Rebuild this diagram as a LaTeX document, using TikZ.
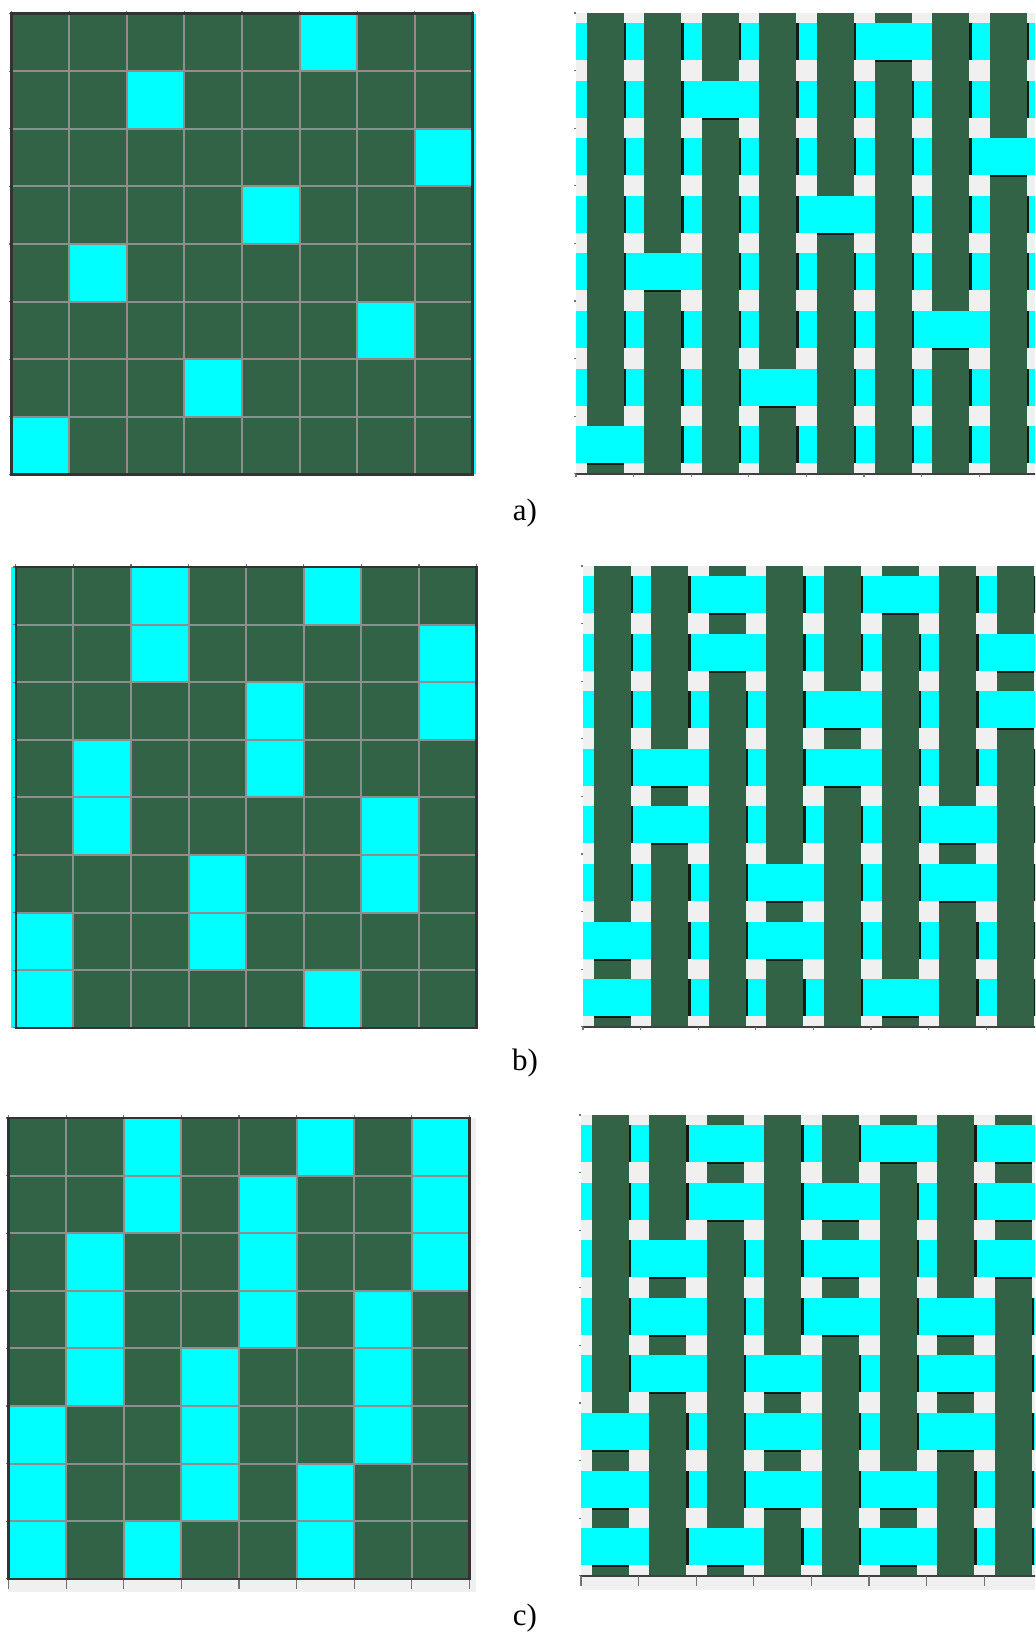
\documentclass[tikz,border=0pt]{standalone}
\usepackage{fontspec}
\setmainfont{Liberation Serif}
\usepackage{tikz}

\definecolor{warpgreen}{RGB}{51,99,70}
\definecolor{weftcyan}{RGB}{0,255,255}
\definecolor{gridgray}{RGB}{142,142,142}
\definecolor{paper}{RGB}{240,240,240}
\definecolor{shade}{RGB}{18,28,22}

\tikzset{
  warpfill/.style={fill=warpgreen},
  weftfill/.style={fill=weftcyan},
  gridline/.style={draw=gridgray, line width=1pt},
  frame/.style={draw=black!80, line width=1.3pt},
  axisline/.style={draw=black!75, line width=0.8pt},
  tickmark/.style={draw=black!55, line width=0.6pt},
  shadow/.style={fill=shade},
  caption/.style={font=\fontsize{15.5}{18}\selectfont, inner sep=0pt},
}

% draft of an 8x8 weave, #1 = list of row/column cells with weft on top
\newcommand{\draftpanel}[1]{%
  \fill[warpfill] (0,0) rectangle (8*\cs,8*\cs);
  \foreach \r/\c in #1
    \fill[weftfill] ({(\c-1)*\cs},{(\r-1)*\cs}) rectangle ++(\cs,\cs);
  \foreach \i in {1,...,7}{
    \draw[gridline] (\i*\cs,0) -- (\i*\cs,8*\cs);
    \draw[gridline] (0,\i*\cs) -- (8*\cs,\i*\cs);
  }
  \foreach \i in {0,...,8}{
    \draw[tickmark] (\i*\cs,0) -- ++(0,-3);
    \draw[tickmark] (0,\i*\cs) -- ++(-3,0);
  }
  \draw[frame] (0,0) rectangle (8*\cs,8*\cs);
}

% simulated fabric of the same weave
\newcommand{\fabricpanel}[1]{%
  \fill[paper] (0,0) rectangle (8*\cs,8*\cs);
  \foreach \r in {1,...,8}
    \fill[weftfill] (0,{(\r-1)*\cs+10}) rectangle (8*\cs,{(\r-1)*\cs+47});
  \foreach \c in {1,...,8}
    \fill[warpfill] ({(\c-1)*\cs+10.5},0) rectangle ++(37,8*\cs);
  \foreach \r in {1,...,8}
    \foreach \c in {1,...,8}
      \fill[shadow] ({(\c-1)*\cs+47.5},{(\r-1)*\cs+10}) rectangle ++(2.5,37);
  \foreach \r/\c in #1{
    \fill[weftfill] ({(\c-1)*\cs+10.5},{(\r-1)*\cs+10}) rectangle ++(40,37);
    \fill[shadow] ({(\c-1)*\cs+10.5},{(\r-1)*\cs+47}) rectangle ++(37,2);
  }
  \draw[axisline] (0,8*\cs) -- (8*\cs,8*\cs);
  \foreach \i in {0,...,8}{
    \draw[tickmark] (\i*\cs,8*\cs) -- ++(0,3);
    \draw[tickmark] (0,\i*\cs) -- ++(-2,0);
  }
}

\begin{document}
\begin{tikzpicture}[x=0.5pt, y=-0.5pt]

\def\cs{57.6}
\def\pata{1/6,2/3,3/8,4/5,5/2,6/7,7/4,8/1}
\def\patb{1/3,1/6,2/3,2/8,3/5,3/8,4/2,4/5,5/2,5/7,6/4,6/7,7/1,7/4,8/1,8/6}
\def\patc{1/3,1/6,1/8,2/3,2/5,2/8,3/2,3/5,3/8,4/2,4/5,4/7,5/2,5/4,5/7,6/1,6/4,6/7,7/1,7/4,7/6,8/1,8/3,8/6}

\useasboundingbox (0,0) rectangle (1035,1634);
\clip (0,0) rectangle (1035,1634);
\fill[white] (0,0) rectangle (1035,1634);

% ── a) ────────────────────────────────────────────────────────────────────
\fill[weftfill] (473,13.5) rectangle (475.5,474);
\begin{scope}[shift={(11.5,13.5)}]
  \draftpanel{\pata}
\end{scope}
\begin{scope}[shift={(576,13)}]
  \fabricpanel{\pata}
\end{scope}
\node[caption] (la) at (525,513) {a)};

% ── b) ────────────────────────────────────────────────────────────────────
\fill[weftfill] (11,567) rectangle (15,1027.8);
\begin{scope}[shift={(15.8,567)}]
  \draftpanel{\patb}
\end{scope}
\begin{scope}[shift={(583,566)}]
  \fabricpanel{\patb}
\end{scope}
\node[caption] (lb) at (525,1063) {b)};

% ── c) ────────────────────────────────────────────────────────────────────
\fill[paper] (8.5,1579) rectangle (476,1592);
\fill[paper] (469,1118) rectangle (476,1592);
\foreach \i in {0,...,8}
  \draw[tickmark] ({8.5+\i*\cs},1579) -- ++(0,10);
\begin{scope}[shift={(8.5,1118)}]
  \draftpanel{\patc}
\end{scope}
\fill[paper] (581,1576) rectangle (1035,1590);
\foreach \i in {0,...,8}
  \draw[tickmark] ({581+\i*\cs},1576) -- ++(0,10);
\begin{scope}[shift={(581,1115)}]
  \fabricpanel{\patc}
\end{scope}
\node[caption] (lc) at (525,1618) {c)};

\end{tikzpicture}
\end{document}
